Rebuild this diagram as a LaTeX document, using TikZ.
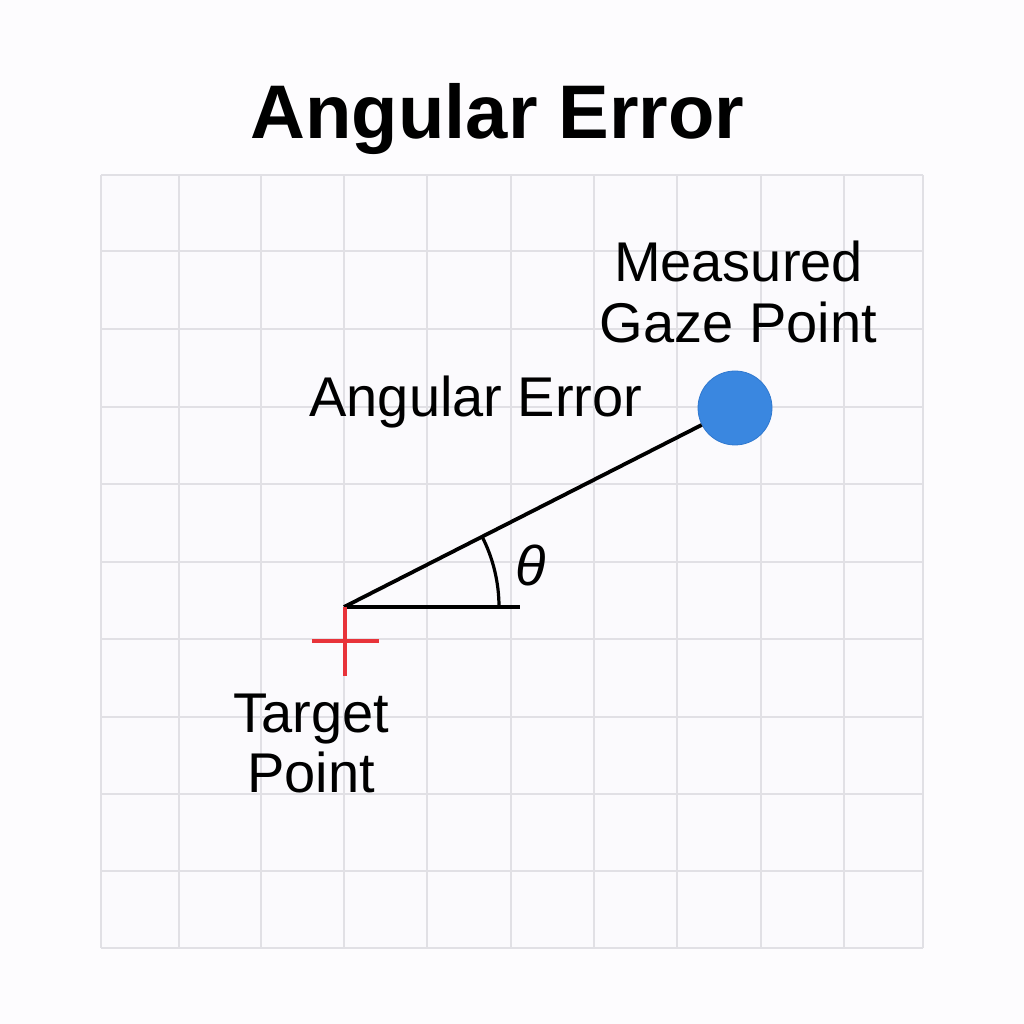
\documentclass[tikz,border=0pt]{standalone}
\usepackage{fontspec}
\setmainfont{Liberation Sans}
\definecolor{pagebg}{HTML}{FDFCFE}
\definecolor{gridbg}{HTML}{FBFAFD}
\definecolor{gridline}{HTML}{E1E0E5}
\definecolor{gazeblue}{HTML}{3A87E0}
\definecolor{gazeedge}{HTML}{2F78CF}
\definecolor{crossred}{HTML}{E8333A}
\tikzset{
  lbl/.style={inner sep=0pt, anchor=base, font=\fontsize{56}{61}\selectfont},
  ttl/.style={inner sep=0pt, anchor=base, font=\fontsize{76}{80}\selectfont\bfseries},
  gridln/.style={draw=gridline, line width=1.8pt},
  ray/.style={draw=black, line width=3.8pt},
  anglearc/.style={draw=black, line width=3.2pt},
  crossln/.style={draw=crossred, line width=4pt},
  gazedot/.style={circle, fill=gazeblue, draw=gazeedge, line width=0.8pt, minimum size=74pt, inner sep=0pt}
}
\begin{document}
\begin{tikzpicture}[x=1pt,y=1pt]
\fill[pagebg] (0,0) rectangle (1024,1024);
\useasboundingbox (0,0) rectangle (1024,1024);
% grid
\fill[gridbg] (101,76) rectangle (923,849);
\foreach \gx in {101,179,261,344,427,511,594,677,761,844,923}
  \draw[gridln] (\gx,76) -- (\gx,849);
\foreach \gy in {76,153,230,307,385,462,540,617,695,773,849}
  \draw[gridln] (101,\gy) -- (923,\gy);
% title
\node[ttl] (title) at (497.5,885) {Angular Error};
% points
\coordinate (tgt) at (344,417);
\coordinate (hend) at (520,417);
\coordinate (crossL) at (312,383);
\coordinate (crossR) at (379,383);
\coordinate (crossT) at (345,417);
\coordinate (crossB) at (345,348);
\node[gazedot] (gaze) at (735,616) {};
% rays
\draw[ray] (tgt) -- (gaze);
\draw[ray] (tgt) -- (hend);
\draw[anglearc] ([shift={(0:155)}]tgt) arc[start angle=0, end angle=27.5, radius=155];
\node[inner sep=0pt, font=\fontsize{56}{60}\selectfont\itshape] (theta) at (531,459) {θ};
% cross
\draw[crossln] (crossL) -- (crossR);
\draw[crossln] (crossT) -- (crossB);
% labels
\node[lbl] (errlbl) at (476,607) {Angular Error};
\node[lbl] (meas1) at (738.5,742) {Measured};
\node[lbl] (meas2) at (738.5,681) {Gaze Point};
\node[lbl] (targ1) at (311,291) {Target};
\node[lbl] (targ2) at (311,231) {Point};
\end{tikzpicture}
\end{document}
